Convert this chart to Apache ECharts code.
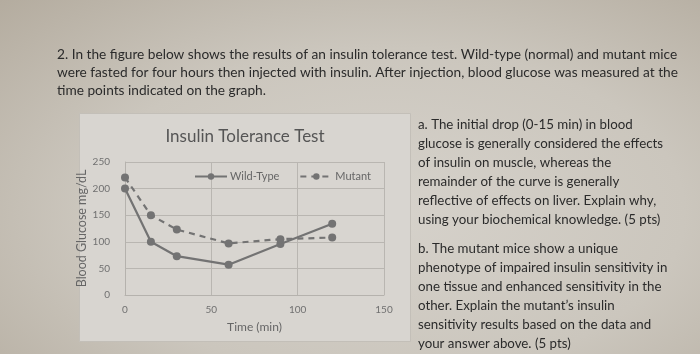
<!DOCTYPE html>
<html>
<head>
<meta charset="utf-8">
<script src="https://cdn.jsdelivr.net/npm/echarts@6/dist/echarts.min.js"></script>
<style>
  html, body { margin: 0; padding: 0; }
  #main {
    width: 700px; height: 354px;
    background: radial-gradient(ellipse at 55% 60%, #d6d2cb 0%, #cbc6bd 55%, #b4ac9f 100%);
  }
</style>
</head>
<body>
<div id="main"></div>
<script>
// time points (min) and blood glucose (mg/dL)
const times = [0, 15, 30, 60, 90, 120]
const wildType = [200, 100, 73, 57, 96, 134]
const mutant = [221, 150, 123, 97, 105, 108]

const questionLines = [
  '2. In the figure below shows the results of an insulin tolerance test. Wild-type (normal) and mutant mice',
  'were fasted for four hours then injected with insulin. After injection, blood glucose was measured at the',
  'time points indicated on the graph.'
]
const partA = [
  'a. The initial drop (0-15 min) in blood',
  'glucose is generally considered the effects',
  'of insulin on muscle, whereas the',
  'remainder of the curve is generally',
  'reflective of effects on liver. Explain why,',
  'using your biochemical knowledge. (5 pts)'
]
const partB = [
  'b. The mutant mice show a unique',
  'phenotype of impaired insulin sensitivity in',
  'one tissue and enhanced sensitivity in the',
  'other. Explain the mutant\u2019s insulin',
  'sensitivity results based on the data and',
  'your answer above. (5 pts)'
]

const textColor = '#2b2b2b'

// 把每行文字轉成 graphic 元素
const makeLines = (lines, x, y0, step, font) => lines.map((t, i) => ({
  type: 'text',
  left: x,
  top: y0 + i * step,
  z: 10,
  style: { text: t, font: font, fill: textColor }
}))

const chart = echarts.init(document.getElementById('main'))

const lineColor = '#737373'
const axisText = '#707070'

chart.setOption({
  backgroundColor: 'transparent',
  animation: false,
  title: {
    text: 'Insulin Tolerance Test',
    left: 240,
    top: 123,
    textAlign: 'center',
    textStyle: { fontFamily: 'Lato', fontSize: 17, fontWeight: 'normal', color: '#555555' }
  },
  legend: {
    left: 189,
    top: 166,
    itemWidth: 32,
    itemHeight: 8,
    itemGap: 20,
    textStyle: { fontFamily: 'Lato', fontSize: 11, color: '#666666', padding: [0, 0, 0, -2] },
    data: ['Wild-Type', 'Mutant']
  },
  grid: { left: 125, right: 316, top: 162, bottom: 59 },
  graphic: [
    {
      type: 'rect',
      left: 79, top: 113, z: -1,
      shape: { width: 331, height: 228 },
      style: { fill: '#d8d5d0', stroke: '#c3bfb8', lineWidth: 1 }
    },
    ...makeLines(questionLines, 57, 48, 18, '13.7px Lato'),
    ...makeLines(partA, 418, 118, 19, '13.3px Lato'),
    ...makeLines(partB, 418, 242, 19, '13.3px Lato')
  ],
  xAxis: {
    type: 'value',
    min: 0, max: 150, interval: 50,
    name: 'Time (min)',
    nameLocation: 'middle',
    nameGap: 26,
    nameTextStyle: { fontFamily: 'Lato', fontSize: 12, color: '#666666' },
    axisLine: { lineStyle: { color: '#b5b2ad' } },
    axisTick: { show: false },
    axisLabel: { fontFamily: 'Lato', fontSize: 10, color: axisText, margin: 10 },
    splitLine: { lineStyle: { color: '#b9b6b1' } }
  },
  yAxis: {
    type: 'value',
    min: 0, max: 250, interval: 50,
    name: 'Blood Glucose mg/dL',
    nameLocation: 'middle',
    nameGap: 31,
    nameTextStyle: { fontFamily: 'Lato', fontSize: 12.5, color: '#666666' },
    axisLine: { show: true, lineStyle: { color: '#b5b2ad' } },
    axisTick: { show: false },
    axisLabel: { fontFamily: 'Lato', fontSize: 10, color: axisText, margin: 15 },
    splitLine: { lineStyle: { color: '#b9b6b1' } }
  },
  series: [
    {
      name: 'Wild-Type',
      type: 'line',
      data: times.map((t, i) => [t, wildType[i]]),
      symbol: 'circle',
      symbolSize: 8,
      itemStyle: { color: lineColor },
      lineStyle: { color: lineColor, width: 2.2 }
    },
    {
      name: 'Mutant',
      type: 'line',
      data: times.map((t, i) => [t, mutant[i]]),
      symbol: 'circle',
      symbolSize: 8,
      itemStyle: { color: lineColor },
      lineStyle: { color: lineColor, width: 2.2, type: [6, 5] }
    }
  ]
})
</script>
</body>
</html>
